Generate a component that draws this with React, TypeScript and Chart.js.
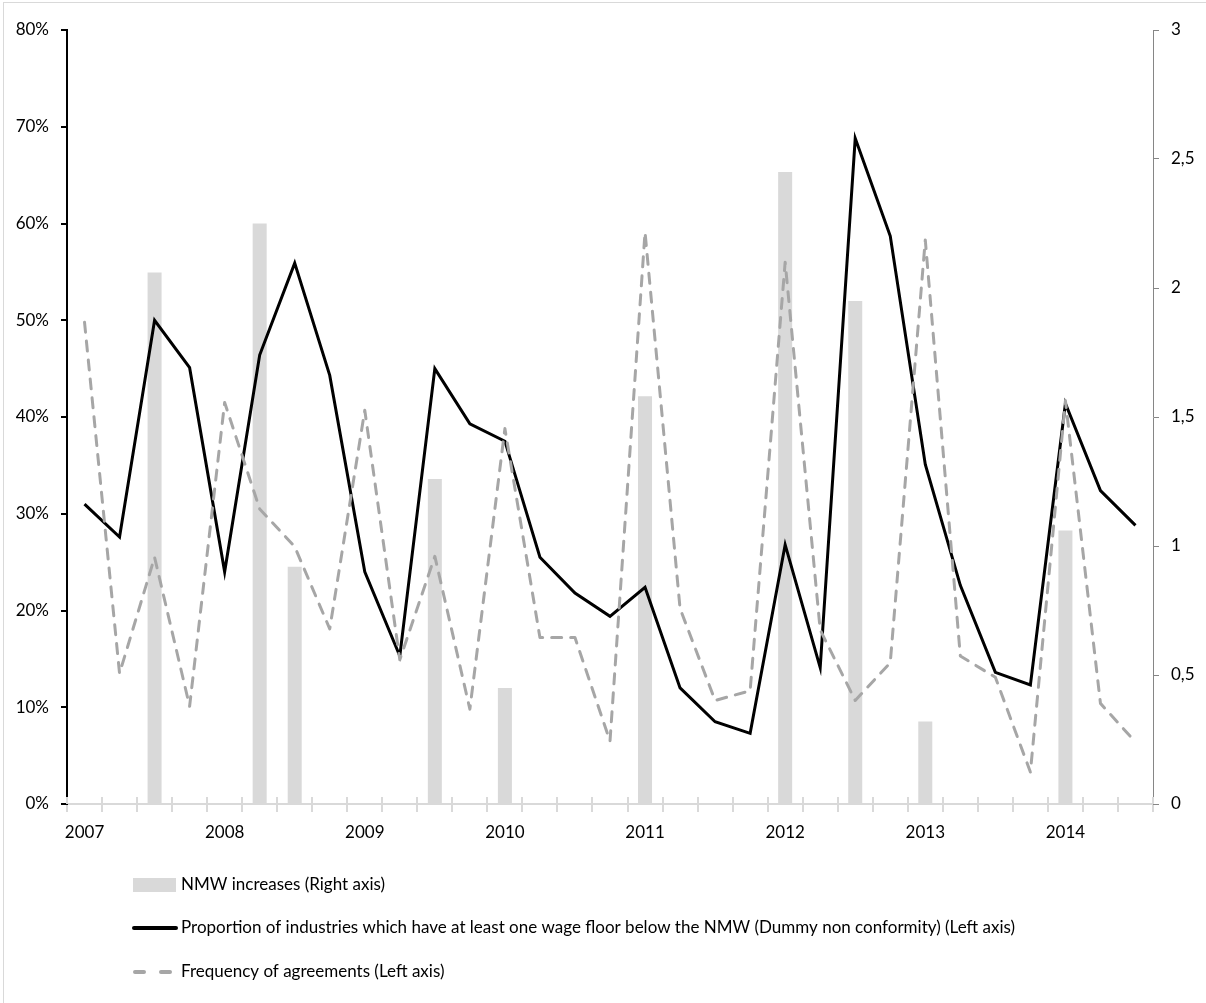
import React, { useEffect, useRef } from "react";
import { Chart, registerables } from "chart.js";

Chart.register(...registerables);

const quarters: string[] = [
  "2007Q1", "2007Q2", "2007Q3", "2007Q4",
  "2008Q1", "2008Q2", "2008Q3", "2008Q4",
  "2009Q1", "2009Q2", "2009Q3", "2009Q4",
  "2010Q1", "2010Q2", "2010Q3", "2010Q4",
  "2011Q1", "2011Q2", "2011Q3", "2011Q4",
  "2012Q1", "2012Q2", "2012Q3", "2012Q4",
  "2013Q1", "2013Q2", "2013Q3", "2013Q4",
  "2014Q1", "2014Q2", "2014Q3",
];

// NMW increases (right axis)
const nmwIncreases: (number | null)[] = [
  null, null, 2.06, null,
  null, 2.25, 0.92, null,
  null, null, 1.26, null,
  0.45, null, null, null,
  1.58, null, null, null,
  2.45, null, 1.95, null,
  0.32, null, null, null,
  1.06, null, null,
];

// Proportion of industries with at least one wage floor below the NMW (left axis, share)
const nonConformity: number[] = [
  0.310, 0.276, 0.500, 0.451,
  0.240, 0.464, 0.559, 0.443,
  0.240, 0.153, 0.450, 0.393,
  0.375, 0.255, 0.218, 0.194,
  0.224, 0.120, 0.085, 0.073,
  0.268, 0.141, 0.688, 0.587,
  0.351, 0.226, 0.136, 0.123,
  0.414, 0.324, 0.288,
];

// Frequency of agreements (left axis, share)
const frequency: number[] = [
  0.498, 0.135, 0.255, 0.101,
  0.415, 0.305, 0.266, 0.181,
  0.407, 0.149, 0.256, 0.098,
  0.388, 0.172, 0.172, 0.065,
  0.591, 0.202, 0.107, 0.117,
  0.560, 0.180, 0.107, 0.146,
  0.583, 0.153, 0.131, 0.033,
  0.417, 0.104, 0.064,
];

const legendLabels: string[] = [
  "NMW increases (Right axis)",
  "Proportion of industries which have at least one wage floor below the NMW (Dummy non conformity) (Left axis)",
  "Frequency of agreements (Left axis)",
];

const FONT = "Lato, 'Open Sans', sans-serif";
const FONT_SIZE = 17;

export default function App() {
  const canvasRef = useRef<HTMLCanvasElement | null>(null);

  useEffect(() => {
    const canvas = canvasRef.current;
    if (!canvas) return;

    const extrasPlugin = {
      id: "extras",
      afterDatasetsDraw(chart: any) {
        const ctx = chart.ctx;
        const area = chart.chartArea;
        const n = quarters.length;
        const step = (area.right - area.left) / n;
        // inner halves of x-axis tick marks (crossing the axis)
        ctx.save();
        ctx.strokeStyle = "#d9d9d9";
        ctx.lineWidth = 2;
        for (let i = 0; i <= n; i++) {
          const x = Math.round(area.left + i * step);
          ctx.beginPath();
          ctx.moveTo(x, area.bottom);
          ctx.lineTo(x, area.bottom - 7);
          ctx.stroke();
        }
        ctx.restore();
      },
      afterDraw(chart: any) {
        const ctx = chart.ctx;
        const area = chart.chartArea;
        ctx.save();
        // frame
        ctx.strokeStyle = "#d9d9d9";
        ctx.lineWidth = 1;
        ctx.strokeRect(3.5, 2.5, 1210, 1010);

        const symX = 133;
        const textX = 181;
        const ys = [area.bottom + 81, area.bottom + 124, area.bottom + 168];
        ctx.font = `${FONT_SIZE}px ${FONT}`;
        ctx.textBaseline = "middle";
        ctx.textAlign = "left";
        // bar swatch
        ctx.fillStyle = "#d9d9d9";
        ctx.fillRect(symX, ys[0] - 7, 43, 14);
        // black line
        ctx.strokeStyle = "#000";
        ctx.lineWidth = 4;
        ctx.lineCap = "round";
        ctx.beginPath();
        ctx.moveTo(symX + 1, ys[1]);
        ctx.lineTo(symX + 43, ys[1]);
        ctx.stroke();
        // dashed
        ctx.strokeStyle = "#a6a6a6";
        ctx.lineWidth = 4;
        ctx.beginPath();
        ctx.moveTo(symX + 2, ys[2]);
        ctx.lineTo(symX + 11, ys[2]);
        ctx.moveTo(symX + 28, ys[2]);
        ctx.lineTo(symX + 37, ys[2]);
        ctx.stroke();

        ctx.fillStyle = "#000";
        legendLabels.forEach((t, i) => ctx.fillText(t, textX, ys[i]));
        ctx.restore();
      },
    };

    const chart = new Chart(canvas, {
      type: "bar",
      data: {
        labels: quarters,
        datasets: [
          {
            type: "line",
            label: legendLabels[2],
            data: frequency,
            yAxisID: "yL",
            borderColor: "#a6a6a6",
            borderWidth: 3,
            borderDash: [10, 9],
            borderCapStyle: "round",
            borderJoinStyle: "round",
            pointRadius: 0,
            tension: 0,
            fill: false,
            order: 1,
          } as any,
          {
            type: "line",
            label: legendLabels[1],
            data: nonConformity,
            yAxisID: "yL",
            borderColor: "#000000",
            borderWidth: 3,
            borderJoinStyle: "miter",
            pointRadius: 0,
            tension: 0,
            fill: false,
            order: 2,
          } as any,
          {
            type: "bar",
            label: legendLabels[0],
            data: nmwIncreases,
            yAxisID: "yR",
            backgroundColor: "#d9d9d9",
            borderWidth: 0,
            barPercentage: 0.5,
            categoryPercentage: 0.8,
            order: 3,
          } as any,
        ],
      },
      options: {
        responsive: false,
        animation: false,
        devicePixelRatio: 1,
        layout: { padding: { top: 30, left: 0, right: 0, bottom: 155 } },
        plugins: {
          legend: { display: false },
          tooltip: { enabled: false },
          title: { display: false },
        },
        scales: {
          x: {
            type: "category",
            offset: true,
            grid: {
              display: true,
              drawOnChartArea: false,
              offset: true,
              color: "#d9d9d9",
              lineWidth: 2,
              tickLength: 8,
            },
            border: { display: true, color: "#d9d9d9", width: 2 },
            ticks: {
              autoSkip: false,
              maxRotation: 0,
              minRotation: 0,
              color: "#000",
              padding: 10,
              font: { family: FONT, size: FONT_SIZE },
              callback: (_v: any, i: number) =>
                quarters[i].endsWith("Q1") ? quarters[i].slice(0, 4) : "",
            },
            afterFit: (scale: any) => {
              scale.height = 44;
            },
          },
          yL: {
            type: "linear",
            position: "left",
            min: 0,
            max: 0.8,
            grid: {
              display: true,
              drawOnChartArea: false,
              color: "#000",
              lineWidth: 2,
              tickLength: 6,
            },
            border: { display: true, color: "#000", width: 2 },
            ticks: {
              stepSize: 0.1,
              color: "#000",
              padding: 12,
              font: { family: FONT, size: FONT_SIZE },
              callback: (v: any) => `${Math.round(Number(v) * 100)}%`,
            },
            afterFit: (scale: any) => {
              scale.width = 67;
            },
          },
          yR: {
            type: "linear",
            position: "right",
            min: 0,
            max: 3,
            grid: {
              display: true,
              drawOnChartArea: false,
              color: "#868686",
              lineWidth: 1,
              tickLength: 6,
            },
            border: { display: true, color: "#868686", width: 1 },
            ticks: {
              stepSize: 0.5,
              color: "#000",
              padding: 12,
              font: { family: FONT, size: FONT_SIZE },
              callback: (v: any) => String(v).replace(".", ","),
            },
            afterFit: (scale: any) => {
              scale.width = 53;
            },
          },
        },
      },
      plugins: [extrasPlugin],
    } as any);

    return () => chart.destroy();
  }, []);

  return (
    <div style={{ position: "absolute", left: 0, top: 0, width: 1206, height: 1003, background: "#fff" }}>
      <canvas ref={canvasRef} width={1206} height={1003} style={{ width: 1206, height: 1003, display: "block" }} />
    </div>
  );
}
